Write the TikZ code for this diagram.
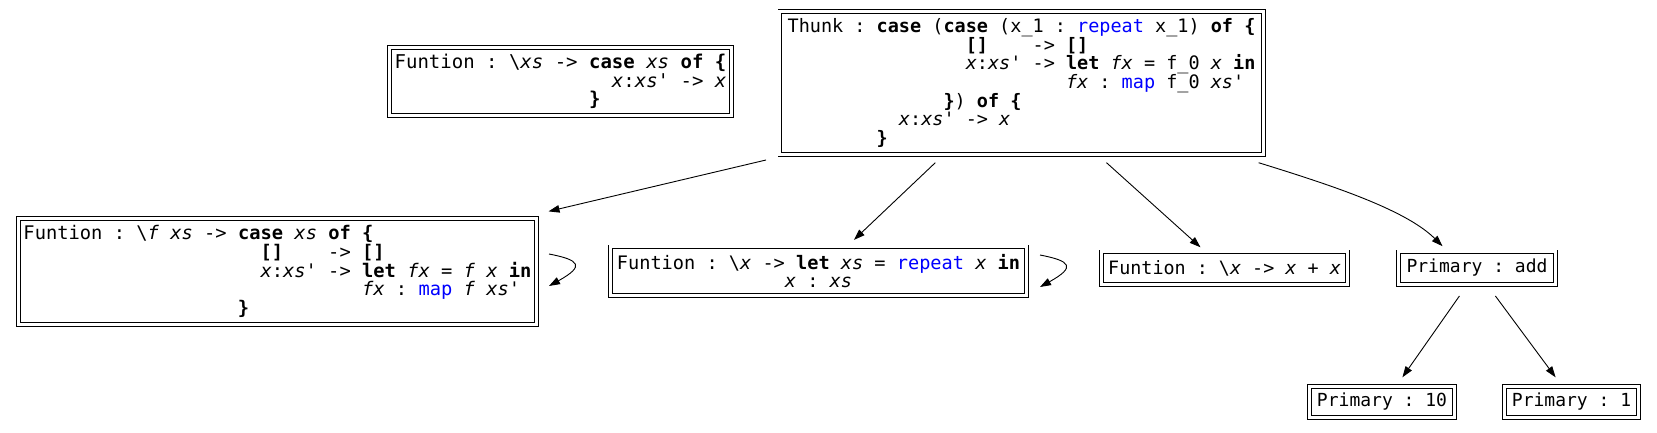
\documentclass[tikz,border=0pt]{standalone}
\usepackage{fontspec}
\setmonofont{DejaVu Sans Mono}
\usetikzlibrary{arrows.meta}
\newcommand\fs[1]{\fontsize{#1pt}{18.6pt}\selectfont\ttfamily}
\newcommand\kw[1]{\textbf{#1}}
\newcommand\vr[1]{\textit{#1}}
\newcommand\bl[1]{\textcolor{blue}{#1}}
\newcommand\ind[1]{\hspace*{#1\dimexpr0.602em\relax}}
\begin{document}
\begin{tikzpicture}[x=1pt,y=1pt,
  box/.style={draw=black, double=white, double distance=3pt, line width=0.9pt,
    rectangle, inner sep=0pt, outer sep=0pt, align=left},
  arr/.style={line width=0.9pt, -{Triangle[length=11pt,width=7.5pt]}}]
\useasboundingbox (0,0) rectangle (1657,432);
\node[box, minimum width=483.2pt, minimum height=143.2pt, font=\fs{18.5}] (T) at (1021.5,349) {%
Thunk : \kw{case} (\kw{case} (x\_1 : \bl{repeat} x\_1) \kw{of \{}\\
\ind{16}\kw{[]}\ind{4}-> \kw{[]}\\
\ind{16}\vr{x}:\vr{xs}' -> \kw{let} \vr{fx} = f\_0 \vr{x} \kw{in}\\
\ind{25}\vr{fx} : \bl{map} f\_0 \vr{xs}'\\
\ind{14}\kw{\}}) \kw{of \{}\\
\ind{10}\vr{x}:\vr{xs}' -> \vr{x}\\
\ind{8}\kw{\}}};
\node[box, minimum width=342.2pt, minimum height=68.2pt, font=\fs{19}] (A) at (560.5,350.5) {%
Funtion : \textbackslash\vr{xs} -> \kw{case} \vr{xs} \kw{of \{}\\
\ind{19}\vr{x}:\vr{xs}' -> \vr{x}\\
\ind{17}\kw{\}}};
\node[box, minimum width=518.2pt, minimum height=106.2pt, font=\fs{18.75}] (L) at (277.5,160.5) {%
Funtion : \textbackslash\vr{f} \vr{xs} -> \kw{case} \vr{xs} \kw{of \{}\\
\ind{21}\kw{[]}\ind{4}-> \kw{[]}\\
\ind{21}\vr{x}:\vr{xs}' -> \kw{let} \vr{fx} = \vr{f} \vr{x} \kw{in}\\
\ind{30}\vr{fx} : \bl{map} \vr{f} \vr{xs}'\\
\ind{19}\kw{\}}};
\node[box, align=center, minimum width=416.2pt, minimum height=48.2pt, font=\fs{18.6}] (M) at (818.5,161) {%
Funtion : \textbackslash\vr{x} -> \kw{let} \vr{xs} = \bl{repeat} \vr{x} \kw{in}\\
\vr{x} : \vr{xs}};
\node[box, minimum width=246.2pt, minimum height=32.2pt, font=\fs{18.4}] (X) at (1224.5,164) {Funtion : \textbackslash\vr{x} -> \vr{x} + \vr{x}};
\node[box, minimum width=157.2pt, minimum height=32.2pt, font=\fs{18}] (P) at (1477,164) {Primary : add};
\node[box, minimum width=145.2pt, minimum height=31.2pt, font=\fs{18}] (P10) at (1382,30) {Primary : 10};
\node[box, minimum width=134.2pt, minimum height=31.2pt, font=\fs{18}] (P1) at (1571.5,30) {Primary : 1};
% edges
\draw[arr] ([shift={(-13.9,-5.4)}]T.south west) -- ([shift={(11.9,7)}]L.north east);
\draw[arr] ([shift={(-86.2,-8.1)}]T.south) -- ([shift={(35.4,7)}]M.north);
\draw[arr] ([shift={(85,-8.1)}]T.south) -- ([shift={(-24,4.6)}]X.north);
\draw[arr] ([shift={(-4.5,-8.1)}]T.south east) .. controls +(70,-21.7) and +(-37.5,37.2) .. ([shift={(-34.5,5.7)}]P.north);
\draw[arr] ([shift={(-17.6,-11.9)}]P.south) -- ([shift={(20.4,9.1)}]P10.north);
\draw[arr] ([shift={(18.4,-11.9)}]P.south) -- ([shift={(-15.9,9.1)}]P1.north);
\draw[arr] ([shift={(12.4,17.5)}]L.east) .. controls +(31,-6) and +(36,20) .. ([shift={(12.4,-14.5)}]L.east);
\draw[arr] ([shift={(13.4,16)}]M.east) .. controls +(31,-6) and +(36,20) .. ([shift={(13.4,-16)}]M.east);
\end{tikzpicture}
\end{document}
